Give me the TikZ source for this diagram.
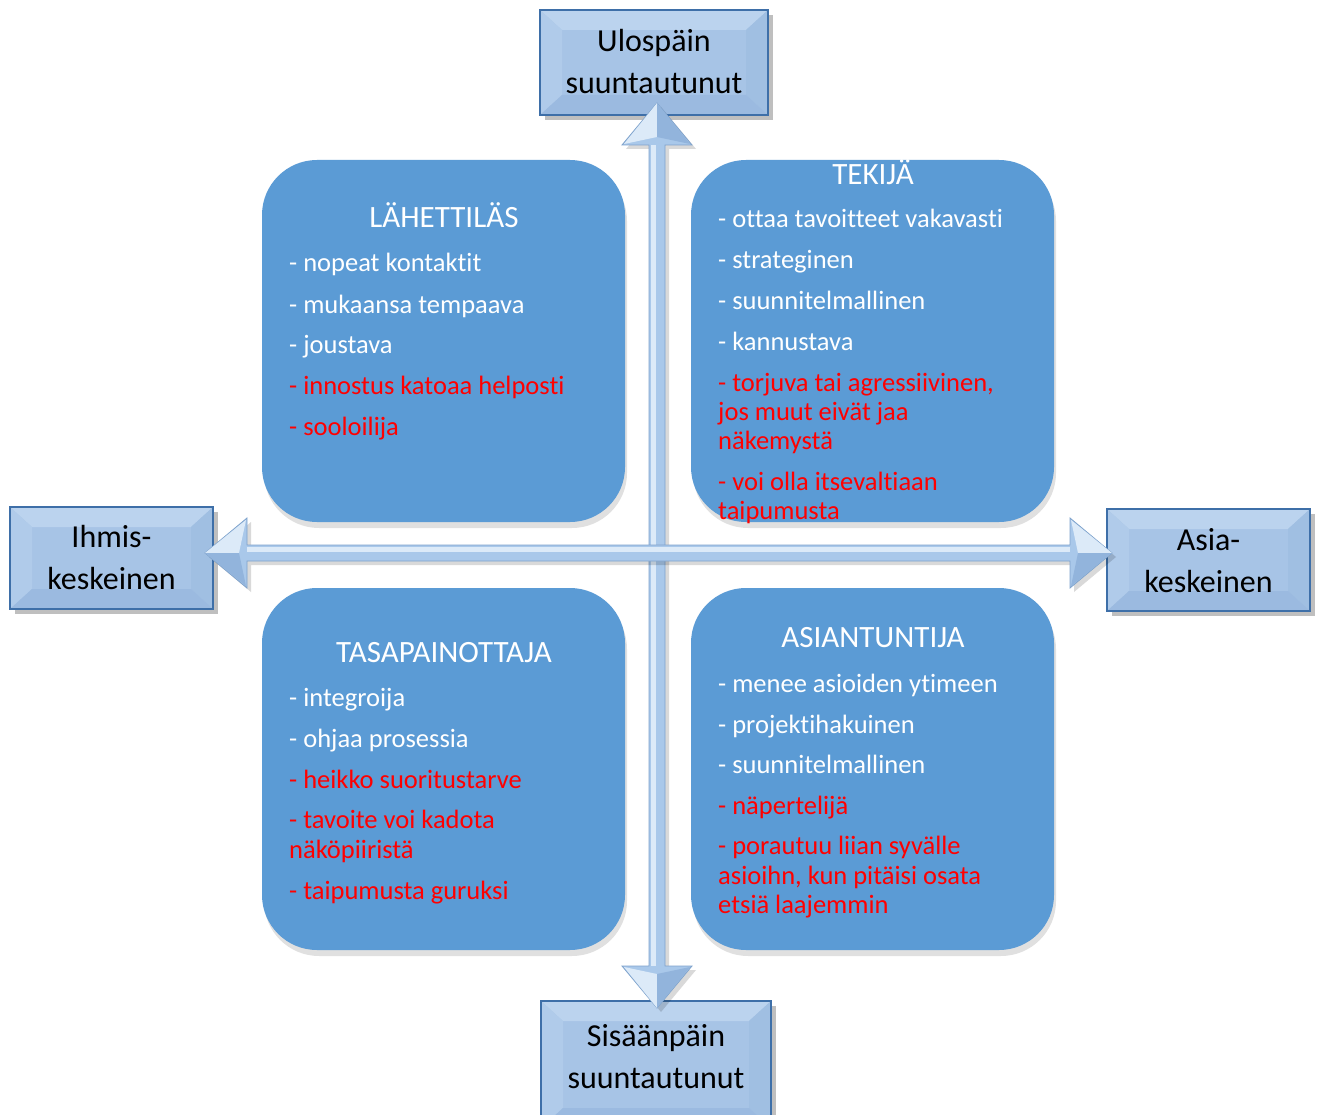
\documentclass[tikz,border=0pt]{standalone}
\usepackage{fontspec}
\setmainfont{Carlito}[Ligatures=NoCommon]
\usetikzlibrary{calc}

\definecolor{quadfill}{HTML}{5B9BD5}
\definecolor{boxedge}{HTML}{3E6FA8}
\definecolor{boxmid}{HTML}{A7C4E6}
\definecolor{boxtop}{HTML}{BBD3EE}
\definecolor{boxleft}{HTML}{B0CBEA}
\definecolor{boxright}{HTML}{A0BFE2}
\definecolor{boxbot}{HTML}{9BBAE0}
\definecolor{arrowfill}{HTML}{A9C8EA}
\definecolor{arrowedge}{HTML}{7FA3CC}
\definecolor{arrowlight}{HTML}{DCEAF8}
\definecolor{arrowdark}{HTML}{92B4DC}
\definecolor{warn}{HTML}{FF0000}

\tikzset{
  quad/.style={fill=quadfill, rounded corners=55pt},
  quadshadow/.style={fill=black, opacity=0.12, rounded corners=55pt},
  heading/.style={text=white, font=\fontsize{31}{36}\selectfont, anchor=base, inner sep=0pt},
  item/.style={text=white, font=\fontsize{26.5}{29}\selectfont, anchor=base west, inner sep=0pt},
  bad/.style={item, text=warn},
  boxlabel/.style={text=black, align=center, font=\fontsize{32}{42}\selectfont, inner sep=0pt}
}

% bevelled label box: name, x1, y1, x2, y2, label centre y, text
\newcommand{\bevbox}[7]{%
  \fill[black, opacity=0.25] (#2+5,#3+5) rectangle (#4+5,#5+5);
  \fill[boxmid] (#2,#3) rectangle (#4,#5);
  \fill[boxtop] (#2,#3) -- (#4,#3) -- (#4-22,#3+20) -- (#2+22,#3+20) -- cycle;
  \fill[boxleft] (#2,#3) -- (#2+22,#3+20) -- (#2+22,#5-20) -- (#2,#5) -- cycle;
  \fill[boxright] (#4,#3) -- (#4-22,#3+20) -- (#4-22,#5-20) -- (#4,#5) -- cycle;
  \fill[boxbot] (#2,#5) -- (#2+22,#5-20) -- (#4-22,#5-20) -- (#4,#5) -- cycle;
  \draw[boxedge, line width=1.6pt] (#2,#3) rectangle (#4,#5);
  \node[boxlabel] (#1) at ({(#2+#4)/2},#6) {#7};
}

\begin{document}
\begin{tikzpicture}[x=1pt, y=-1pt]
\useasboundingbox (0,0) rectangle (1317,1115);
\fill[white] (0,0) rectangle (1317,1115);

% quadrant panels with soft shadows
\foreach \x/\y in {262/160, 691/160, 262/588, 691/588} {
  \fill[quadshadow] (\x+2,\y+6) rectangle (\x+365,\y+368);
  \fill[quad] (\x,\y) rectangle (\x+363,\y+362);
}

% direction boxes
\bevbox{up}{540}{10}{768}{115}{62}{Ulospäin\\suuntautunut}
\bevbox{down}{541}{1001}{771}{1128}{1057}{Sisäänpäin\\suuntautunut}
\bevbox{left}{10}{507}{213}{609}{558}{Ihmis-\\keskeinen}
\bevbox{right}{1107}{509}{1310}{611}{561}{Asia-\\keskeinen}

% tips of the two double-headed axis arrows
\coordinate (vtop) at (657,103);
\coordinate (vbot) at (657,1008);
\coordinate (hleft) at (205,553);
\coordinate (hright) at (1112,553);

% vertical axis arrow
\fill[black, opacity=0.15]
  ($(vtop)+(4,4)$) -- ($(vtop)+(39,46)$) -- ($(vtop)+(12,46)$) -- ($(vbot)+(12,-38)$)
  -- ($(vbot)+(39,-38)$) -- ($(vbot)+(4,4)$) -- ($(vbot)+(-31,-38)$) -- ($(vbot)+(-4,-38)$)
  -- ($(vtop)+(-4,46)$) -- ($(vtop)+(-31,46)$) -- cycle;
\filldraw[fill=arrowfill, draw=arrowedge, line width=0.8pt]
  (vtop) -- ($(vtop)+(35,42)$) -- ($(vtop)+(8,42)$) -- ($(vbot)+(8,-42)$)
  -- ($(vbot)+(35,-42)$) -- (vbot) -- ($(vbot)+(-35,-42)$) -- ($(vbot)+(-8,-42)$)
  -- ($(vtop)+(-8,42)$) -- ($(vtop)+(-35,42)$) -- cycle;
\fill[arrowlight] ($(vtop)+(-6,42)$) rectangle ($(vbot)+(-1,-42)$);
\fill[arrowlight] (vtop) -- ($(vtop)+(-33,41)$) -- ($(vtop)+(0,34)$) -- cycle;
\fill[arrowdark] (vtop) -- ($(vtop)+(33,41)$) -- ($(vtop)+(0,34)$) -- cycle;
\fill[arrowlight] (vbot) -- ($(vbot)+(-33,-41)$) -- ($(vbot)+(0,-34)$) -- cycle;
\fill[arrowdark] (vbot) -- ($(vbot)+(33,-41)$) -- ($(vbot)+(0,-34)$) -- cycle;

% horizontal axis arrow
\fill[black, opacity=0.15]
  ($(hleft)+(4,4)$) -- ($(hleft)+(46,-31)$) -- ($(hleft)+(46,-4)$) -- ($(hright)+(-38,-4)$)
  -- ($(hright)+(-38,-31)$) -- ($(hright)+(4,4)$) -- ($(hright)+(-38,39)$) -- ($(hright)+(-38,12)$)
  -- ($(hleft)+(46,12)$) -- ($(hleft)+(46,39)$) -- cycle;
\filldraw[fill=arrowfill, draw=arrowedge, line width=0.8pt]
  (hleft) -- ($(hleft)+(42,-35)$) -- ($(hleft)+(42,-8)$) -- ($(hright)+(-42,-8)$)
  -- ($(hright)+(-42,-35)$) -- (hright) -- ($(hright)+(-42,35)$) -- ($(hright)+(-42,8)$)
  -- ($(hleft)+(42,8)$) -- ($(hleft)+(42,35)$) -- cycle;
\fill[arrowlight] ($(hleft)+(42,-6)$) rectangle ($(hright)+(-42,-1)$);
\fill[arrowlight] (hleft) -- ($(hleft)+(41,-33)$) -- ($(hleft)+(34,0)$) -- cycle;
\fill[arrowdark] (hleft) -- ($(hleft)+(41,33)$) -- ($(hleft)+(34,0)$) -- cycle;
\fill[arrowlight] (hright) -- ($(hright)+(-41,-33)$) -- ($(hright)+(-34,0)$) -- cycle;
\fill[arrowdark] (hright) -- ($(hright)+(-41,33)$) -- ($(hright)+(-34,0)$) -- cycle;

% upper left: Lähettiläs
\node[heading] (tlh) at (444,228) {LÄHETTILÄS};
\node[item] (tl1) at (289,272) {- nopeat kontaktit};
\node[item] (tl2) at (289,313) {- mukaansa tempaava};
\node[item] (tl3) at (289,353) {- joustava};
\node[bad]  (tl4) at (289,394) {- innostus katoaa helposti};
\node[bad]  (tl5) at (289,435) {- sooloilija};

% upper right: Tekijä
\node[heading] (trh) at (873,185) {TEKIJÄ};
\node[item] (tr1) at (718,228) {- ottaa tavoitteet vakavasti};
\node[item] (tr2) at (718,269) {- strateginen};
\node[item] (tr3) at (718,309) {- suunnitelmallinen};
\node[item] (tr4) at (718,350) {- kannustava};
\node[bad]  (tr5a) at (718,391) {- torjuva tai agressiivinen,};
\node[bad]  (tr5b) at (718,420) {jos muut eivät jaa};
\node[bad]  (tr5c) at (718,449) {näkemystä};
\node[bad]  (tr6a) at (718,490) {- voi olla itsevaltiaan};
\node[bad]  (tr6b) at (718,519) {taipumusta};

% lower left: Tasapainottaja
\node[heading] (blh) at (444,662) {TASAPAINOTTAJA};
\node[item] (bl1) at (289,706) {- integroija};
\node[item] (bl2) at (289,747) {- ohjaa prosessia};
\node[bad]  (bl3) at (289,788) {- heikko suoritustarve};
\node[bad]  (bl4a) at (289,828) {- tavoite voi kadota};
\node[bad]  (bl4b) at (289,858) {näköpiiristä};
\node[bad]  (bl5) at (289,899) {- taipumusta guruksi};

% lower right: Asiantuntija
\node[heading] (brh) at (873,647) {ASIANTUNTIJA};
\node[item] (br1) at (718,692) {- menee asioiden ytimeen};
\node[item] (br2) at (718,733) {- projektihakuinen};
\node[item] (br3) at (718,773) {- suunnitelmallinen};
\node[bad]  (br4) at (718,814) {- näpertelijä};
\node[bad]  (br5a) at (718,854) {- porautuu liian syvälle};
\node[bad]  (br5b) at (718,884) {asioihn, kun pitäisi osata};
\node[bad]  (br5c) at (718,913) {etsiä laajemmin};
\end{tikzpicture}
\end{document}
